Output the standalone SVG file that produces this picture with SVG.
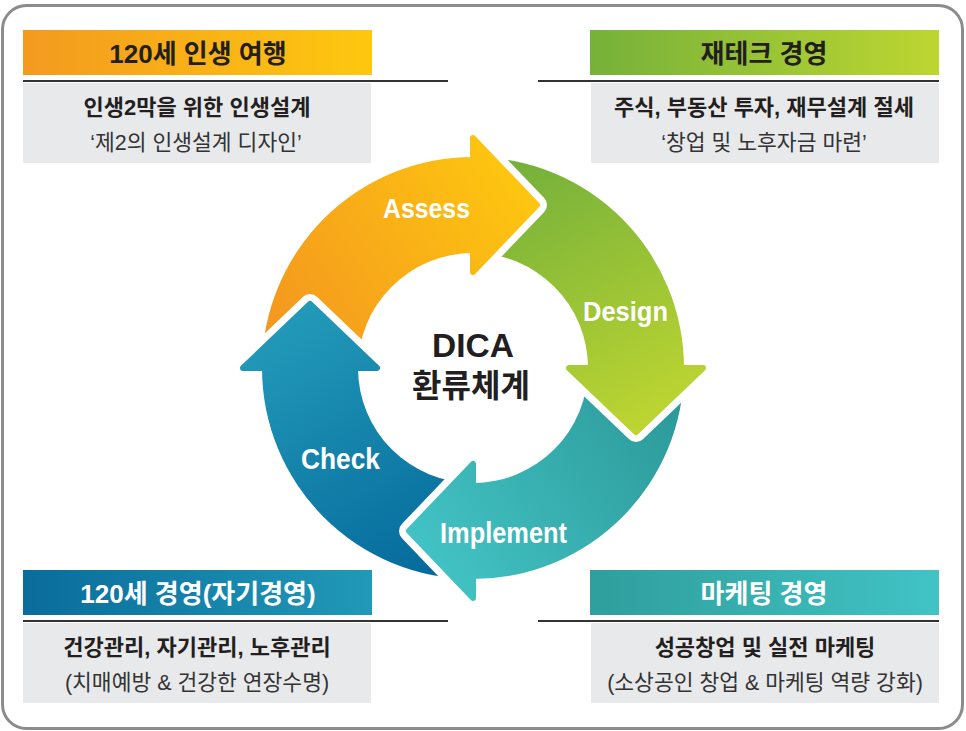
<svg xmlns="http://www.w3.org/2000/svg" width="966" height="731" viewBox="0 0 966 731">
<defs>
<linearGradient id="hTL" x1="0" y1="0" x2="1" y2="0"><stop offset="0" stop-color="#f39a1f"/><stop offset="1" stop-color="#fec80f"/></linearGradient>
<linearGradient id="hTR" x1="0" y1="0" x2="1" y2="0"><stop offset="0" stop-color="#76b13a"/><stop offset="1" stop-color="#bdd631"/></linearGradient>
<linearGradient id="hBL" x1="0" y1="0" x2="1" y2="0"><stop offset="0" stop-color="#0a6c9b"/><stop offset="1" stop-color="#2199b8"/></linearGradient>
<linearGradient id="hBR" x1="0" y1="0" x2="1" y2="0"><stop offset="0" stop-color="#2f9e9c"/><stop offset="1" stop-color="#41c3c5"/></linearGradient>
<linearGradient id="gA" gradientUnits="userSpaceOnUse" x1="280" y1="340" x2="535" y2="175"><stop offset="0" stop-color="#f4981f"/><stop offset="1" stop-color="#fec80f"/></linearGradient>
<linearGradient id="gD" gradientUnits="userSpaceOnUse" x1="500" y1="170" x2="640" y2="430"><stop offset="0" stop-color="#74b03b"/><stop offset="1" stop-color="#bdd531"/></linearGradient>
<linearGradient id="gI" gradientUnits="userSpaceOnUse" x1="680" y1="390" x2="420" y2="570"><stop offset="0" stop-color="#2c9898"/><stop offset="1" stop-color="#43c4c6"/></linearGradient>
<linearGradient id="gC" gradientUnits="userSpaceOnUse" x1="310" y1="300" x2="470" y2="575"><stop offset="0" stop-color="#239ab9"/><stop offset="1" stop-color="#03679a"/></linearGradient>
<style>
.frame{fill:#ffffff;stroke:#8c8c8c;stroke-width:3}
.box{fill:#e8e9eb}
.rule{stroke:#333333;stroke-width:2}
.ht{font-family:"Liberation Sans","Noto Sans CJK KR",sans-serif;font-weight:bold;font-size:26px;text-anchor:middle}
.dark{fill:#231f20}
.light{fill:#ffffff}
.b1{font-family:"Liberation Sans","Noto Sans CJK KR",sans-serif;font-weight:bold;font-size:22px;text-anchor:middle;fill:#231f20}
.b2{font-family:"Liberation Sans","Noto Sans CJK KR",sans-serif;font-size:21.5px;text-anchor:middle;fill:#333333}
.gap{fill:none;stroke:#ffffff;stroke-width:20;stroke-linejoin:round;stroke-linecap:round}
.lbl{font-family:"Liberation Sans",sans-serif;font-weight:bold;fill:#ffffff;text-anchor:middle}
.ctr{font-family:"Liberation Sans","Noto Sans CJK KR",sans-serif;font-weight:bold;fill:#231f20;text-anchor:middle}
</style>
</defs>
<rect class="frame" x="2.5" y="5.5" width="960" height="723" rx="24"/>

<g id="node-travel">
<rect x="23" y="30" width="349" height="45" fill="url(#hTL)"/>
<text class="ht dark" x="198" y="63">120세 인생 여행</text>
<line class="rule" x1="23" y1="81" x2="448" y2="81"/>
<rect class="box" x="23" y="83" width="348" height="80"/>
<text class="b1" x="197" y="115">인생2막을 위한 인생설계</text>
<text class="b2" x="196" y="150">‘제2의 인생설계 디자인’</text>
</g>

<g id="node-finance">
<rect x="590" y="30" width="349" height="45" fill="url(#hTR)"/>
<text class="ht dark" x="764" y="63">재테크 경영</text>
<line class="rule" x1="538" y1="81" x2="939" y2="81"/>
<rect class="box" x="591" y="83" width="348" height="80"/>
<text class="b1" x="764" y="115">주식, 부동산 투자, 재무설계 절세</text>
<text class="b2" x="764" y="150">‘창업 및 노후자금 마련’</text>
</g>

<g id="node-self">
<rect x="23" y="570" width="349" height="45" fill="url(#hBL)"/>
<text class="ht light" x="198" y="603">120세 경영(자기경영)</text>
<line class="rule" x1="23" y1="621" x2="448" y2="621"/>
<rect class="box" x="23" y="623" width="348" height="80"/>
<text class="b1" x="197" y="655">건강관리, 자기관리, 노후관리</text>
<text class="b2" x="197" y="690">(치매예방 &amp; 건강한 연장수명)</text>
</g>

<g id="node-marketing">
<rect x="590" y="570" width="349" height="45" fill="url(#hBR)"/>
<text class="ht light" x="764" y="603">마케팅 경영</text>
<line class="rule" x1="538" y1="621" x2="939" y2="621"/>
<rect class="box" x="591" y="623" width="348" height="80"/>
<text class="b1" x="765" y="655">성공창업 및 실전 마케팅</text>
<text class="b2" x="765" y="690">(소상공인 창업 &amp; 마케팅 역량 강화)</text>
</g>

<g id="connectors">
<path d="M262 368 A211 211 0 0 1 473 157 L473 253 A115 115 0 0 0 358 368 Z" fill="url(#gA)"/>
<path d="M473 157 A211 211 0 0 1 684 368 L588 368 A115 115 0 0 0 473 253 Z" fill="url(#gD)"/>
<path d="M684 368 A211 211 0 0 1 473 579 L473 483 A115 115 0 0 0 588 368 Z" fill="url(#gI)"/>
<path d="M473 579 A211 211 0 0 1 262 368 L358 368 A115 115 0 0 0 473 483 Z" fill="url(#gC)"/>

<path class="gap" d="M473 138 L537 205 L473 272"/>
<path d="M473 272 L473 138 L537 205 Z" fill="url(#gA)" stroke="url(#gA)" stroke-width="6" stroke-linejoin="round"/>

<path class="gap" d="M703 368 L636 432 L569 368"/>
<path d="M569 368 L703 368 L636 432 Z" fill="url(#gD)" stroke="url(#gD)" stroke-width="6" stroke-linejoin="round"/>

<path class="gap" d="M473 598 L409 531 L473 464"/>
<path d="M473 464 L473 598 L409 531 Z" fill="url(#gI)" stroke="url(#gI)" stroke-width="6" stroke-linejoin="round"/>

<path class="gap" d="M243 368 L310 304 L377 368"/>
<path d="M377 368 L243 368 L310 304 Z" fill="url(#gC)" stroke="url(#gC)" stroke-width="6" stroke-linejoin="round"/>
</g>

<g id="node-assess"><text class="lbl" x="426.5" y="218" font-size="28" textLength="87" lengthAdjust="spacingAndGlyphs">Assess</text></g>
<g id="node-design"><text class="lbl" x="625.5" y="321" font-size="28" textLength="85" lengthAdjust="spacingAndGlyphs">Design</text></g>
<g id="node-implement"><text class="lbl" x="503.5" y="543" font-size="29" textLength="127" lengthAdjust="spacingAndGlyphs">Implement</text></g>
<g id="node-check"><text class="lbl" x="340.5" y="469" font-size="29" textLength="79" lengthAdjust="spacingAndGlyphs">Check</text></g>

<g id="node-center">
<text class="ctr" x="473" y="357" font-size="33.5">DICA</text>
<text class="ctr" x="471" y="397" font-size="32">환류체계</text>
</g>
</svg>
